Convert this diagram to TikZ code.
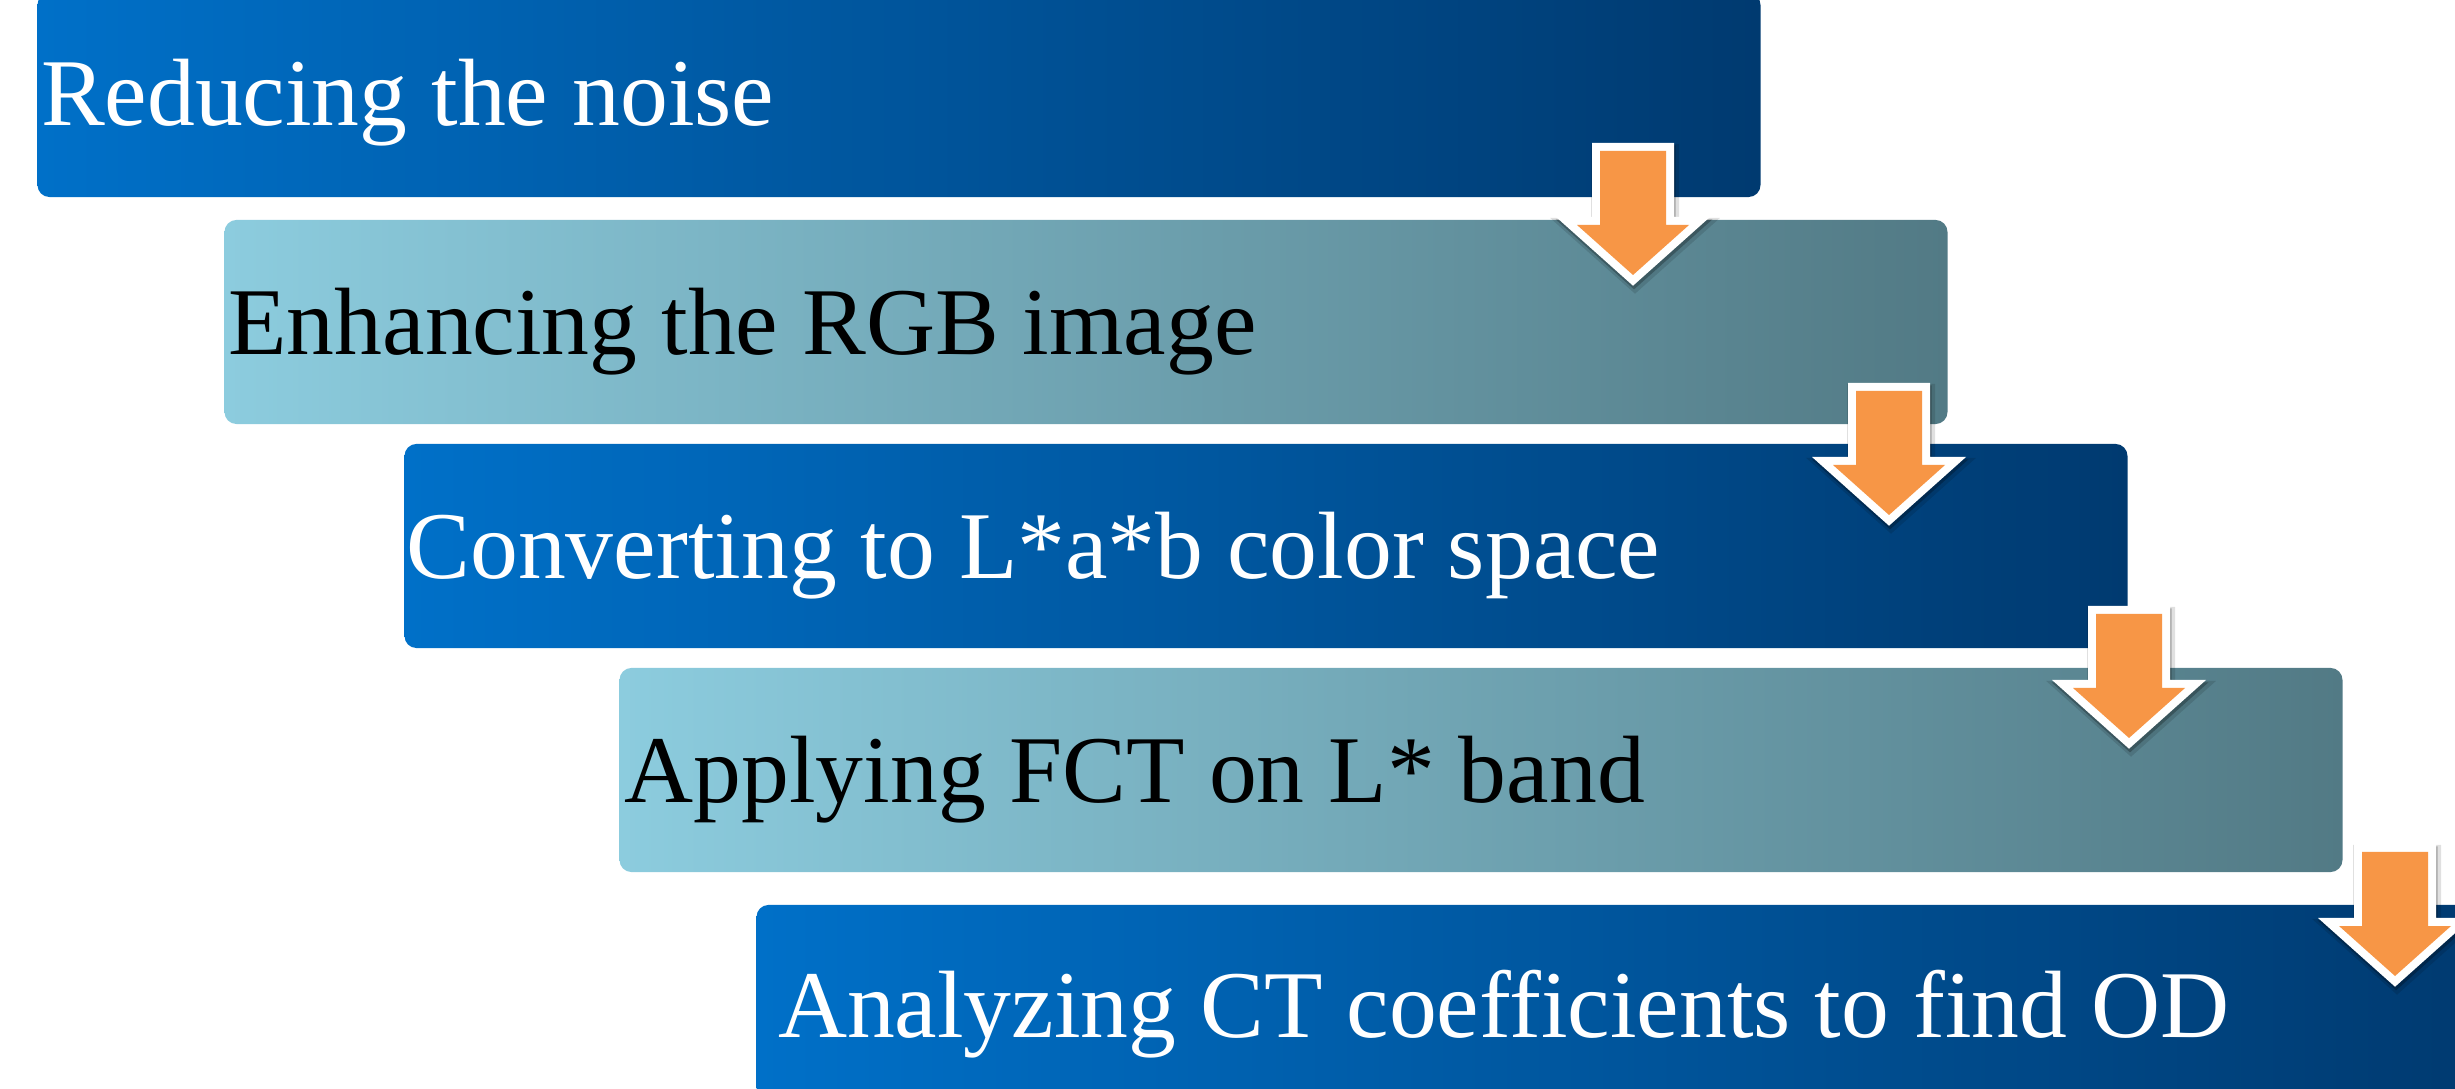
\documentclass[tikz,border=0pt]{standalone}
\usepackage{fontspec}
\setmainfont{Liberation Serif}
\usepackage{tikz}
\definecolor{darkleft}{RGB}{0,112,200}
\definecolor{darkright}{RGB}{0,58,112}
\definecolor{lightleft}{RGB}{140,204,222}
\definecolor{lightright}{RGB}{82,122,133}
\definecolor{arroworange}{RGB}{247,150,70}
\tikzset{
    stepbox/.style={rectangle, rounded corners=0.12cm, minimum width=17.22cm, minimum height=2.04cm, inner sep=0pt},
    darkbox/.style={stepbox, left color=darkleft, right color=darkright},
    lightbox/.style={stepbox, left color=lightleft, right color=lightright},
    steptext/.style={anchor=base west, inner sep=0pt, font=\fontsize{27.2}{33}\selectfont},
    downarrow/.pic={
        \filldraw[black, opacity=0.12, line width=0.22cm, line join=miter, shift={(2,4)}] (-33,0) -- (33,0) -- (33,74) -- (56,74) -- (0,124) -- (-56,74) -- (-33,74) -- cycle;
        \filldraw[black, opacity=0.25, line width=0.17cm, line join=miter, shift={(1,3)}] (-33,0) -- (33,0) -- (33,74) -- (56,74) -- (0,124) -- (-56,74) -- (-33,74) -- cycle;
        \filldraw[white, line width=0.16cm, line join=miter] (-33,0) -- (33,0) -- (33,74) -- (56,74) -- (0,124) -- (-56,74) -- (-33,74) -- cycle;
        \fill[arroworange] (-33,0) -- (33,0) -- (33,74) -- (56,74) -- (0,124) -- (-56,74) -- (-33,74) -- cycle;
    }
}

\begin{document}
\begin{tikzpicture}[x=0.01cm,y=-0.01cm]
    \useasboundingbox (0,0) rectangle (2455,1089);
    \clip (0,0) rectangle (2455,1089);
    % the five steps
    \node[darkbox] (reduce) at (899,95) {};
    \node[lightbox] (enhance) at (1086,322) {};
    \node[darkbox] (convert) at (1266,546) {};
    \node[lightbox] (apply) at (1481,770) {};
    \node[darkbox] (analyze) at (1618,1007) {};
    \node[steptext, white, xshift=0.035cm, yshift=-0.30cm] (reducetext) at (reduce.west) {Reducing the noise};
    \node[steptext, black, xshift=0.04cm, yshift=-0.32cm] (enhancetext) at (enhance.west) {Enhancing the RGB image};
    \node[steptext, white, xshift=0.02cm, yshift=-0.32cm] (converttext) at (convert.west) {Converting to L*a*b color space};
    \node[steptext, black, xshift=0.05cm, yshift=-0.32cm] (applytext) at (apply.west) {Applying FCT on L* band};
    \node[steptext, white, xshift=0.215cm, yshift=-0.30cm] (analyzetext) at (analyze.west) {Analyzing CT coefficients to find OD};
    % arrows between the steps
    \foreach \cx/\ty in {1633/151, 1889/391, 2129/614, 2395/852}
        \pic at (\cx,\ty) {downarrow};
\end{tikzpicture}
\end{document}
